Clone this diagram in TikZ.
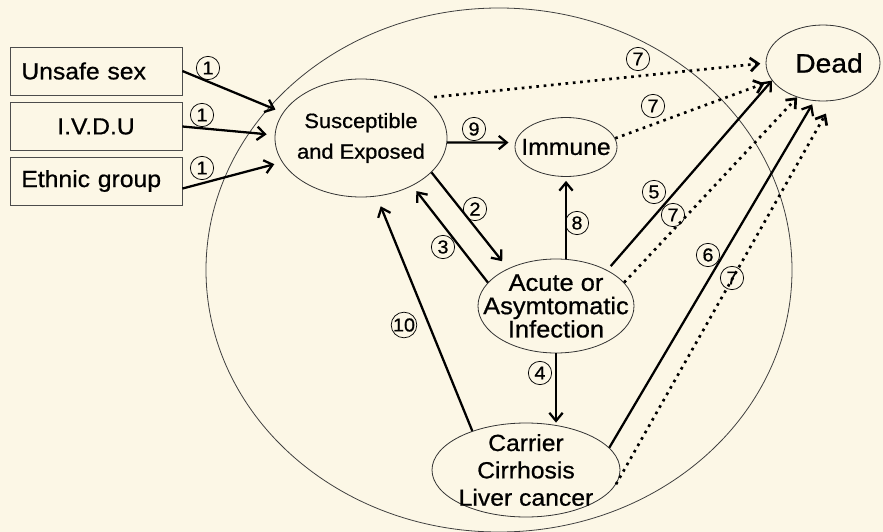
\documentclass[tikz,border=0pt]{standalone}
\usepackage{fontspec}
\setmainfont[FakeStretch=1.06,FakeBold=0.7]{Liberation Sans}
\usetikzlibrary{shapes.geometric,arrows.meta}
\definecolor{paper}{RGB}{252,247,230}
\tikzset{
  state/.style={ellipse, draw=black!80, line width=0.6pt, inner sep=0pt},
  factor/.style={draw=black!70, line width=0.6pt, minimum width=129pt, minimum height=36pt,
    text width=112pt, inner xsep=8.5pt, font=\fontsize{17.5}{20}\selectfont},
  num/.style={circle, draw, line width=0.55pt, inner sep=0pt, minimum size=17.5pt,
    font=\fontsize{14}{14}\selectfont},
  flow/.style={-{Straight Barb[length=6pt,width=10pt]}, line width=1.7pt},
  death/.style={flow, line width=2pt, dash pattern=on 2pt off 3.5pt}
}

\begin{document}
\begin{tikzpicture}[x=0.75pt,y=-0.75pt]
  \useasboundingbox (0,0) rectangle (883,532);
  \fill[paper] (0,0) rectangle (883,532);
  \node[ellipse, draw=black!75, line width=0.6pt, minimum width=439.5pt, minimum height=393pt] (host) at (499,270) {};

  % risk factors
  \node[factor, align=left] (sex) at (96,71) {Unsafe sex};
  \node[factor, align=center] (ivdu) at (96,126.5) {I.V.D.U};
  \node[factor, align=left] (eth) at (96,181) {Ethnic group};

  % states
  \node[state, minimum width=129pt, minimum height=88.5pt] (sus) at (361,138) {};
  \node[align=center, font=\fontsize{15.5}{23}\selectfont] (sus-t) at (sus) {Susceptible\\and Exposed};
  \node[state, minimum width=76.5pt, minimum height=44.25pt] (imm) at (566,147) {};
  \node[font=\fontsize{17.5}{20}\selectfont] (imm-t) at (imm) {Immune};
  \node[state, minimum width=85.5pt, minimum height=57pt] (dead) at (823,63) {};
  \node[font=\fontsize{20}{22}\selectfont] (dead-t) at (829,63) {Dead};
  \node[state, minimum width=117pt, minimum height=70.5pt] (acu) at (556,306) {};
  \node[align=center, font=\fontsize{18}{17.5}\selectfont] (acu-t) at (acu) {Acute or\\Asymtomatic\\Infection};
  \node[state, minimum width=141pt, minimum height=70.5pt] (car) at (526,470) {};
  \node[align=center, font=\fontsize{17.5}{20.5}\selectfont] (car-t) at (car) {Carrier\\Cirrhosis\\Liver cancer};

  % transitions
  \draw[flow, shorten >=6pt] (sex.east) -- (sus.162);
  \draw[flow, shorten >=6pt] (ivdu.east) -- (sus.178);
  \draw[flow, shorten >=6pt] (eth.-5) -- (sus.197);
  \draw[flow, shorten >=5pt] (sus.-3) -- (imm.175);
  \draw[flow, shorten >=7pt] (sus.-26) -- (acu.142);
  \draw[flow, shorten >=5pt] (acu.161) -- (sus.-43);
  \draw[flow, shorten >=8pt] (car.144) -- (sus.-75);
  \draw[flow, shorten >=3pt] (acu.north -| imm.south) -- (imm.south);
  \draw[flow] (acu.south) -- (acu.south |- car.north);
  \draw[flow, shorten <=4pt] (acu.35) -- (dead.199);
  \draw[flow, shorten >=3pt] (car.15) -- (dead.257);
  \draw[death, shorten <=7pt, shorten >=4pt] (sus.32) -- (dead.180);
  \draw[death, shorten >=6pt] (imm.10) -- (dead.199);
  \draw[death] (acu.19) -- (dead.233);
  \draw[death, shorten >=11pt] (car.-9) -- (dead.285);

  % circled numbers
  \foreach \p/\t [count=\i] in {{(208,68)}/1, {(202,115)}/1, {(202,168)}/1, {(474,129)}/9,
      {(475,209)}/2, {(443,247)}/3, {(404,325)}/10, {(577,223)}/8, {(540,373)}/4,
      {(654,192)}/5, {(708,255)}/6, {(638,59)}/7, {(653,106)}/7, {(673,215)}/7, {(732,278)}/7}
    \node[num] (n\i) at \p {\t};
\end{tikzpicture}
\end{document}
